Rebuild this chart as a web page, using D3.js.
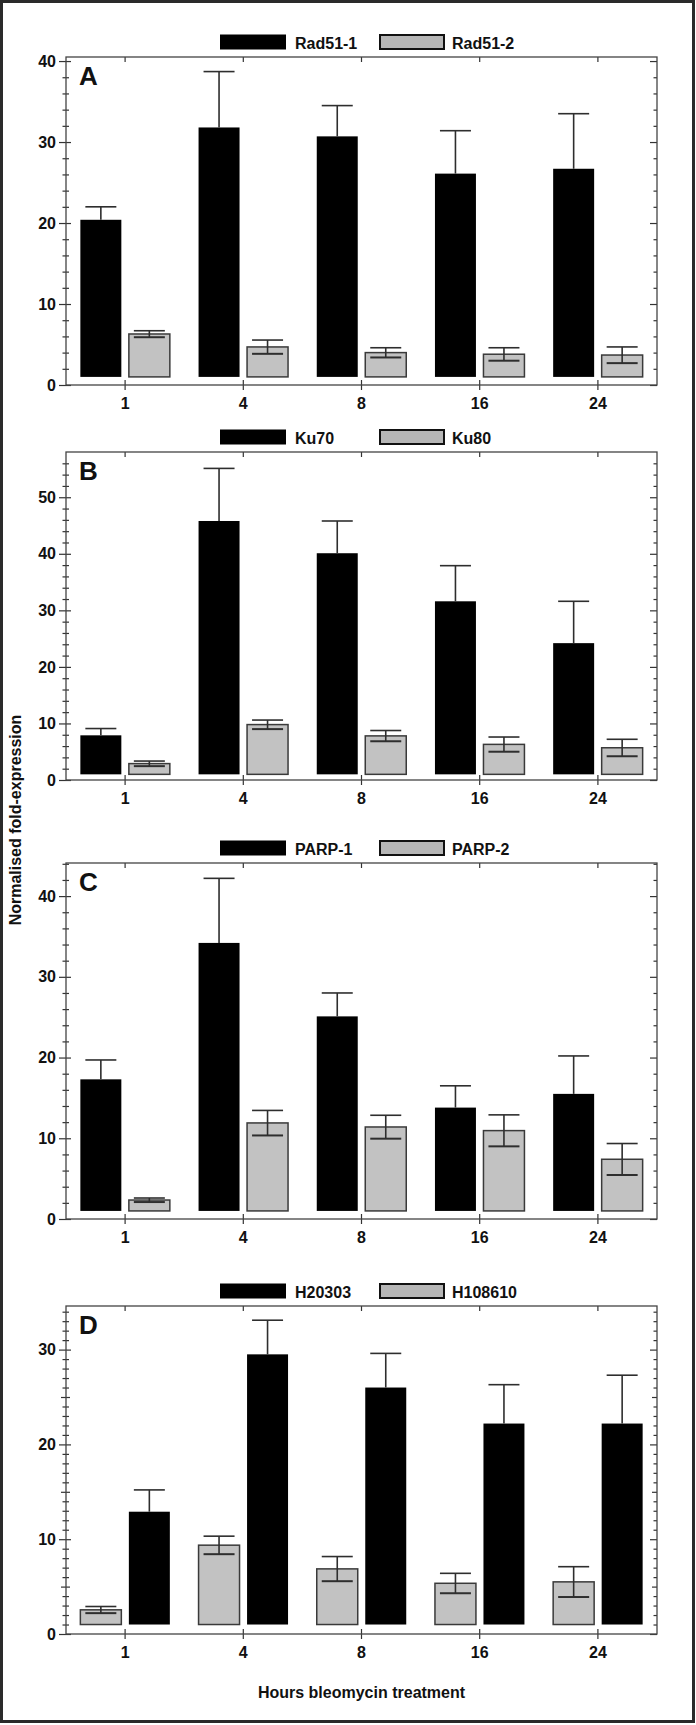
<!DOCTYPE html>
<html>
<head>
<meta charset="utf-8">
<script src="https://cdn.jsdelivr.net/npm/d3@7"></script>
<style>
body{margin:0;background:#fff}
svg{display:block}
text{font-family:"Liberation Sans",Arial,sans-serif;font-weight:bold;font-size:16px;fill:#111}
text.letter{font-size:26px}
</style>
</head>
<body>
<svg width="696" height="1725"></svg>
<script>
// hours of bleomycin treatment
const hours = ["1", "4", "8", "16", "24"]

// A
const rad51_1 = [20.4, 31.8, 30.7, 26.1, 26.7]
const rad51_1Err = [1.6, 6.9, 3.8, 5.3, 6.8]
const rad51_2 = [6.3, 4.7, 4.0, 3.8, 3.7]
const rad51_2Err = [0.4, 0.85, 0.6, 0.8, 1.0]
// B
const ku70 = [7.9, 45.8, 40.1, 31.6, 24.2]
const ku70Err = [1.2, 9.3, 5.7, 6.3, 7.4]
const ku80 = [2.9, 9.8, 7.8, 6.3, 5.7]
const ku80Err = [0.45, 0.8, 0.95, 1.3, 1.5]
// C
const parp1 = [17.3, 34.2, 25.1, 13.8, 15.5]
const parp1Err = [2.4, 8.0, 2.9, 2.7, 4.7]
const parp2 = [2.35, 11.9, 11.4, 10.95, 7.4]
const parp2Err = [0.25, 1.55, 1.45, 1.95, 1.95]
// D
const h20303 = [12.9, 29.5, 26.0, 22.2, 22.2]
const h20303Err = [2.3, 3.6, 3.6, 4.1, 5.1]
const h108610 = [2.55, 9.37, 6.87, 5.35, 5.5]
const h108610Err = [0.35, 0.95, 1.3, 1.05, 1.6]

const baseline = 1 // bars start at fold-expression 1

let svg = d3.select("svg")
let left = 66, right = 657

// outer frame of the figure
svg.append("rect")
    .attr("x", 1.5).attr("y", 1.5)
    .attr("width", 692).attr("height", 1720)
    .attr("fill", "none").attr("stroke", "#2a2a2a").attr("stroke-width", 3)

let scaleX = d3.scaleBand().domain(hours).range([left, right])
let scaleSub = d3.scaleBand().domain([0, 1])
    .range([0, scaleX.bandwidth()])
    .paddingInner(0.155).paddingOuter(0.296)

const panels = [
    {letter: "A", top: 57, bottom: 385, yMax: 40.5, minor: 2, mid: 0, lightFirst: false,
        dark: {name: "Rad51-1", v: rad51_1, e: rad51_1Err}, light: {name: "Rad51-2", v: rad51_2, e: rad51_2Err}},
    {letter: "B", top: 452, bottom: 780, yMax: 58, minor: 2, mid: 0, lightFirst: false,
        dark: {name: "Ku70", v: ku70, e: ku70Err}, light: {name: "Ku80", v: ku80, e: ku80Err}},
    {letter: "C", top: 863, bottom: 1219, yMax: 44.1, minor: 2, mid: 0, lightFirst: false,
        dark: {name: "PARP-1", v: parp1, e: parp1Err}, light: {name: "PARP-2", v: parp2, e: parp2Err}},
    {letter: "D", top: 1306, bottom: 1634, yMax: 34.6, minor: 1, mid: 5, lightFirst: true,
        dark: {name: "H20303", v: h20303, e: h20303Err}, light: {name: "H108610", v: h108610, e: h108610Err}}
]

panels.forEach(drawPanel)

// axis titles
svg.append("text")
    .attr("transform", "translate(21,820) rotate(-90)")
    .attr("text-anchor", "middle")
    .text("Normalised fold-expression")
svg.append("text")
    .attr("x", (left + right) / 2).attr("y", 1698)
    .attr("text-anchor", "middle")
    .text("Hours bleomycin treatment")

function tickGroup(g, axis, values, size, inner, dim) {
    let a = g.append("g").attr("color", "#333")
        .call(axis.tickValues(values).tickSize(size).tickSizeOuter(0))
    a.select(".domain").remove()
    if (inner) a.selectAll(".tick line").attr(dim + "1", inner)
    a.selectAll(".tick line").attr("stroke-width", 1.2)
    return a
}

function drawPanel(p) {
    let y = d3.scaleLinear().domain([0, p.yMax]).range([p.bottom, p.top])
    let g = svg.append("g")

    let majors = d3.range(0, p.yMax, 10)
    let mids = p.mid ? d3.range(p.mid, p.yMax, 10) : []
    let minors = d3.range(0, p.yMax, p.minor)
        .filter(v => v % 10 != 0 && !(p.mid && v % p.mid == 0))

    // left axis, ticks crossing the line
    let gl = g.append("g").attr("transform", "translate(" + left + ",0)")
    tickGroup(gl, d3.axisLeft(y).tickFormat(d3.format("d")).tickPadding(3), majors, 7, 5, "x")
    tickGroup(gl, d3.axisLeft(y).tickFormat(""), mids, 5, 4, "x")
    tickGroup(gl, d3.axisLeft(y).tickFormat(""), minors, 3.5, 3, "x")

    // right axis, ticks inward
    let gr = g.append("g").attr("transform", "translate(" + right + ",0)")
    tickGroup(gr, d3.axisRight(y).tickFormat(""), majors, -7)
    tickGroup(gr, d3.axisRight(y).tickFormat(""), mids, -5)
    tickGroup(gr, d3.axisRight(y).tickFormat(""), minors, -3.5)

    // top and bottom
    let gt = g.append("g").attr("transform", "translate(0," + p.top + ")")
    tickGroup(gt, d3.axisTop(scaleX).tickFormat(""), hours, -5)
    let gb = g.append("g").attr("transform", "translate(0," + p.bottom + ")")
    tickGroup(gb, d3.axisBottom(scaleX).tickPadding(8), hours, 5, -5, "y")

    g.append("rect")
        .attr("x", left).attr("y", p.top)
        .attr("width", right - left).attr("height", p.bottom - p.top)
        .attr("fill", "none").attr("stroke", "#444").attr("stroke-width", 1.3)

    g.append("text").attr("class", "letter")
        .attr("x", left + 13).attr("y", p.top + 28)
        .text(p.letter)

    // legend
    let lg = g.append("g").attr("transform", "translate(0," + (p.top - 22.5) + ")")
    lg.append("rect").attr("x", left + 154).attr("width", 66).attr("height", 15).attr("fill", "#000")
    lg.append("text").attr("x", left + 229).attr("y", 14).text(p.dark.name)
    lg.append("rect").attr("x", left + 314).attr("y", 0.5).attr("width", 64).attr("height", 14)
        .attr("fill", "#b6b6b6").attr("stroke", "#111").attr("stroke-width", 2)
    lg.append("text").attr("x", left + 386).attr("y", 14).text(p.light.name)

    let series = [
        {s: p.dark, fill: "#000", stroke: "none", both: false},
        {s: p.light, fill: "#c2c2c2", stroke: "#3a3a3a", both: true}
    ]
    if (p.lightFirst) series.reverse()

    series.forEach(function (ser, i) {
        let data = hours.map((h, j) => ({h: h, v: ser.s.v[j], e: ser.s.e[j]}))
        let cx = d => scaleX(d.h) + scaleSub(i) + scaleSub.bandwidth() / 2

        g.append("g").selectAll("rect")
            .data(data).enter().append("rect")
            .attr("x", d => scaleX(d.h) + scaleSub(i))
            .attr("y", d => y(d.v))
            .attr("width", scaleSub.bandwidth())
            .attr("height", d => y(baseline) - y(d.v))
            .attr("fill", ser.fill)
            .attr("stroke", ser.stroke).attr("stroke-width", 1.5)

        let eb = g.append("g").attr("stroke", "#2e2e2e").attr("stroke-width", 1.6)
            .selectAll("g").data(data).enter().append("g")
        eb.append("line")
            .attr("x1", cx).attr("x2", cx)
            .attr("y1", d => y(ser.both ? d.v - d.e : d.v))
            .attr("y2", d => y(d.v + d.e))
        eb.append("line")
            .attr("x1", d => cx(d) - 15.5).attr("x2", d => cx(d) + 15.5)
            .attr("y1", d => y(d.v + d.e)).attr("y2", d => y(d.v + d.e))
        if (ser.both) {
            eb.append("line")
                .attr("x1", d => cx(d) - 15.5).attr("x2", d => cx(d) + 15.5)
                .attr("y1", d => y(d.v - d.e)).attr("y2", d => y(d.v - d.e))
                .attr("stroke-width", 2)
        }
    })
}
</script>
</body>
</html>
